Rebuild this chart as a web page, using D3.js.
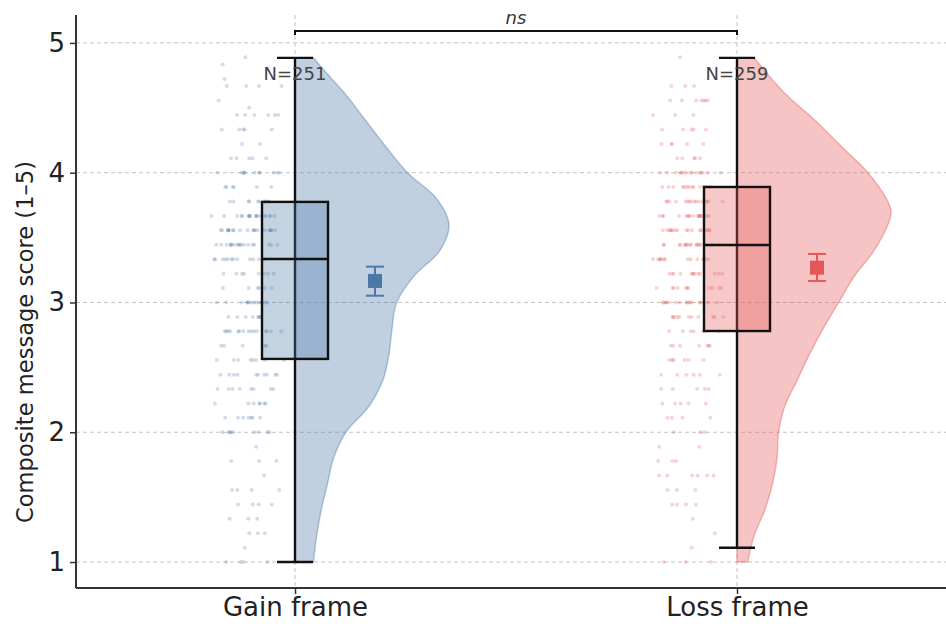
<!DOCTYPE html>
<html>
<head>
<meta charset="utf-8">
<script src="https://cdn.jsdelivr.net/npm/d3@7"></script>
<style>
  body { margin: 0; background: #fff; }
  svg { display: block; font-family: "DejaVu Sans", sans-serif; }
</style>
</head>
<body>
<div id="chart"></div>
<script>
// groups
const groups = ["Gain frame", "Loss frame"];
const groupN = [251, 259];
const groupColor = ["#4C78A8", "#E45756"];

// box stats: [lowWhisker, q1, median, q3, highWhisker]
const gainBox = [1.0, 2.565, 3.335, 3.775, 4.885];
const lossBox = [1.11, 2.78, 3.443, 3.89, 4.885];

// mean and 95% CI
const gainMean = [3.166, 3.052, 3.276];
const lossMean = [3.268, 3.166, 3.374];

// half-violin outline: score -> relative density
const gainViolinScore = [1.0, 1.2, 1.4, 1.6, 1.8, 2.0, 2.2, 2.4, 2.6, 2.8, 3.0, 3.2, 3.4, 3.6, 3.8, 4.0, 4.2, 4.4, 4.6, 4.8, 4.885];
const gainViolinDens  = [0.12, 0.14, 0.17, 0.21, 0.25, 0.33, 0.48, 0.57, 0.61, 0.63, 0.66, 0.77, 0.94, 1.0, 0.92, 0.73, 0.59, 0.46, 0.33, 0.18, 0.12];
const lossViolinScore = [1.0, 1.2, 1.4, 1.6, 1.8, 2.0, 2.2, 2.4, 2.6, 2.8, 3.0, 3.2, 3.4, 3.6, 3.7, 3.8, 4.0, 4.2, 4.4, 4.6, 4.8, 4.885];
const lossViolinDens  = [0.07, 0.11, 0.18, 0.23, 0.26, 0.27, 0.31, 0.39, 0.47, 0.56, 0.66, 0.76, 0.89, 0.98, 1.0, 0.97, 0.85, 0.68, 0.51, 0.32, 0.17, 0.11];

// raw scores: level -> count of respondents
const gainLevels = [1.0, 1.111, 1.222, 1.333, 1.444, 1.556, 1.667, 1.778, 1.889, 2.0, 2.111, 2.222, 2.333, 2.444, 2.556, 2.667, 2.778, 2.889, 3.0, 3.111, 3.222, 3.333, 3.444, 3.556, 3.667, 3.778, 3.889, 4.0, 4.111, 4.222, 4.333, 4.444, 4.5, 4.556, 4.667, 4.722, 4.833, 4.889];
const gainCounts = [4, 1, 3, 3, 4, 4, 1, 3, 1, 9, 7, 7, 8, 10, 8, 5, 15, 8, 14, 6, 8, 12, 18, 20, 18, 10, 6, 11, 5, 2, 5, 6, 1, 1, 4, 1, 1, 1];
const lossLevels = [1.0, 1.111, 1.222, 1.333, 1.444, 1.556, 1.667, 1.778, 1.889, 2.0, 2.111, 2.222, 2.333, 2.444, 2.556, 2.667, 2.778, 2.889, 3.0, 3.111, 3.222, 3.333, 3.444, 3.556, 3.667, 3.778, 3.889, 4.0, 4.111, 4.222, 4.333, 4.444, 4.556, 4.667, 4.889];
const lossCounts = [3, 1, 1, 1, 4, 3, 6, 3, 2, 3, 4, 5, 5, 6, 6, 7, 6, 11, 17, 11, 13, 14, 18, 17, 18, 16, 14, 15, 5, 5, 5, 3, 7, 3, 1];

// axis ticks
const yTicks = [1, 2, 3, 4, 5];

const width = 946, height = 624;
const plot = {left: 76, right: 946, top: 15, bottom: 588};

const svg = d3.select("#chart").append("svg")
    .attr("width", width)
    .attr("height", height);

const x = d3.scaleLinear().domain([-0.5, 1.5]).range([74, 958]);
const y = d3.scaleLinear().domain([0.8, 5.215]).range([plot.bottom, plot.top]);
const halfWidth = d3.scaleLinear().domain([0, 1]).range([0, 154]);

svg.append("clipPath").attr("id", "clip")
    .append("rect")
    .attr("x", plot.left).attr("y", 0)
    .attr("width", plot.right - plot.left).attr("height", plot.bottom);

const g = svg.append("g").attr("clip-path", "url(#clip)");

// grid
g.selectAll(".hgrid").data(yTicks).enter().append("line")
    .attr("x1", plot.left).attr("x2", plot.right)
    .attr("y1", d => y(d)).attr("y2", d => y(d))
    .attr("stroke", "#c4c4c4").attr("stroke-width", 1)
    .attr("stroke-dasharray", "4,3");
g.selectAll(".vgrid").data([0, 1]).enter().append("line")
    .attr("x1", d => x(d)).attr("x2", d => x(d))
    .attr("y1", plot.top).attr("y2", plot.bottom)
    .attr("stroke", "#c4c4c4").attr("stroke-width", 1)
    .attr("stroke-dasharray", "4,3");

// small deterministic hash used only to spread dots sideways
function spread(n) {
    const s = Math.sin(n * 12.9898 + 78.233) * 43758.5453;
    return s - Math.floor(s);
}

const sets = [
    {box: gainBox, mean: gainMean, vs: gainViolinScore, vd: gainViolinDens, lv: gainLevels, ct: gainCounts},
    {box: lossBox, mean: lossMean, vs: lossViolinScore, vd: lossViolinDens, lv: lossLevels, ct: lossCounts}
];

sets.forEach(function (s, i) {
    const cx = x(i);
    const col = groupColor[i];

    // half violin on the right
    const pts = s.vs.map((v, k) => [v, s.vd[k]]);
    const area = d3.area()
        .y(d => y(d[0]))
        .x0(cx)
        .x1(d => cx + halfWidth(d[1]))
        .curve(d3.curveCatmullRom);
    g.append("path")
        .datum(pts)
        .attr("d", area)
        .attr("fill", col).attr("fill-opacity", 0.35)
        .attr("stroke", col).attr("stroke-opacity", 0.4)
        .attr("stroke-width", 1.5);

    // raw points on the left, spread sideways
    let idx = 0;
    const dots = [];
    s.lv.forEach(function (lv, k) {
        for (let c = 0; c < s.ct[k]; c++) {
            const u = 0.7 * spread(idx + 1000 * i) + 0.3 * spread(idx + 500 + 1000 * i);
            dots.push({v: lv, off: -86 + u * 76});
            idx++;
        }
    });
    g.append("g").selectAll("circle").data(dots).enter().append("circle")
        .attr("cx", d => cx + d.off)
        .attr("cy", d => y(d.v))
        .attr("r", 2)
        .attr("fill", col).attr("fill-opacity", 0.25);

    // box
    const b = s.box;
    g.append("line")
        .attr("x1", cx).attr("x2", cx)
        .attr("y1", y(b[0])).attr("y2", y(b[4]))
        .attr("stroke", "#111").attr("stroke-width", 2.4);
    [b[0], b[4]].forEach(function (w) {
        g.append("line")
            .attr("x1", cx - 18).attr("x2", cx + 18)
            .attr("y1", y(w)).attr("y2", y(w))
            .attr("stroke", "#111").attr("stroke-width", 2.4);
    });
    g.append("rect")
        .attr("x", cx - 33).attr("width", 66)
        .attr("y", y(b[3])).attr("height", y(b[1]) - y(b[3]))
        .attr("fill", col).attr("fill-opacity", 0.33)
        .attr("stroke", "#111").attr("stroke-width", 2.4);
    g.append("line")
        .attr("x1", cx - 33).attr("x2", cx + 33)
        .attr("y1", y(b[2])).attr("y2", y(b[2]))
        .attr("stroke", "#111").attr("stroke-width", 2.4);

    // mean with CI
    const mx = cx + 80;
    const m = s.mean;
    g.append("line")
        .attr("x1", mx).attr("x2", mx)
        .attr("y1", y(m[1])).attr("y2", y(m[2]))
        .attr("stroke", col).attr("stroke-width", 2);
    [m[1], m[2]].forEach(function (w) {
        g.append("line")
            .attr("x1", mx - 9).attr("x2", mx + 9)
            .attr("y1", y(w)).attr("y2", y(w))
            .attr("stroke", col).attr("stroke-width", 2);
    });
    g.append("rect")
        .attr("x", mx - 7).attr("y", y(m[0]) - 7)
        .attr("width", 14).attr("height", 14)
        .attr("fill", col);

    // N label
    g.append("text")
        .attr("x", cx).attr("y", y(b[4]) + 22)
        .attr("text-anchor", "middle")
        .attr("font-size", 18)
        .attr("fill", "#444")
        .text("N=" + groupN[i]);
});

// significance bracket
const by = 31;
svg.append("path")
    .attr("d", "M" + x(0) + "," + (by + 4) + "V" + by + "H" + x(1) + "V" + (by + 4))
    .attr("fill", "none").attr("stroke", "#111").attr("stroke-width", 2);
svg.append("text")
    .attr("x", (x(0) + x(1)) / 2).attr("y", by - 7)
    .attr("text-anchor", "middle")
    .attr("font-size", 18).attr("font-style", "italic")
    .attr("fill", "#333")
    .text("ns");

// axes
const yAxis = d3.axisLeft(y).tickValues(yTicks).tickSize(6).tickPadding(5).tickFormat(d3.format("d"));
const ya = svg.append("g").attr("transform", "translate(" + plot.left + ",0)").call(yAxis);
ya.select(".domain").attr("d", "M0," + plot.top + "V" + plot.bottom).attr("stroke", "#333").attr("stroke-width", 2);
ya.selectAll(".tick line").attr("stroke", "#333").attr("stroke-width", 1.5);
ya.selectAll(".tick text").attr("font-size", 26).attr("font-family", "DejaVu Sans").attr("fill", "#222");

const xAxis = d3.axisBottom(x).tickValues([0, 1]).tickSize(6).tickPadding(4).tickFormat((d, i) => groups[i]);
const xa = svg.append("g").attr("transform", "translate(0," + plot.bottom + ")").call(xAxis);
xa.select(".domain").attr("d", "M" + plot.left + ",0H" + plot.right).attr("stroke", "#333").attr("stroke-width", 2);
xa.selectAll(".tick line").attr("stroke", "#333").attr("stroke-width", 1.5);
xa.selectAll(".tick text").attr("font-size", 26).attr("font-family", "DejaVu Sans").attr("fill", "#222");

svg.append("text")
    .attr("transform", "translate(33,342) rotate(-90)")
    .attr("text-anchor", "middle")
    .attr("font-size", 22.6)
    .attr("fill", "#222")
    .text("Composite message score (1–5)");
</script>
</body>
</html>
